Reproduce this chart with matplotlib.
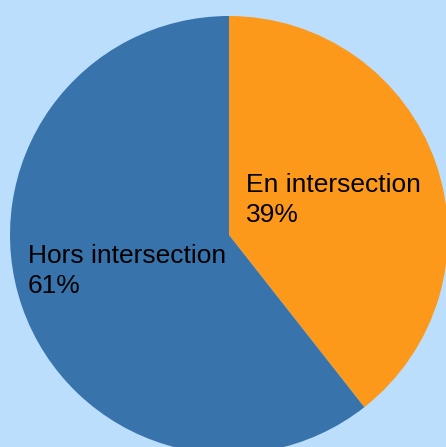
import matplotlib
matplotlib.use("Agg")
import matplotlib.pyplot as plt

categories = ["En intersection", "Hors intersection"]
values = [39.4, 60.6]
colors = ["#fd991a", "#3873ab"]
bg = "#bbdefd"

W, H = 446, 447
fig = plt.figure(figsize=(W / 100, H / 100), dpi=100, facecolor=bg)
ax = fig.add_axes([0, 0, 1, 1])
ax.set_facecolor(bg)

cx, cy, r = 229, H - 235, 219
ax.pie(values, colors=colors, startangle=90, counterclock=False,
       center=(cx, cy), radius=r, frame=True,
       wedgeprops=dict(linewidth=0))
ax.set_xlim(0, W)
ax.set_ylim(0, H)
ax.set_aspect("equal")
ax.axis("off")

total = sum(values)
pos = [(246, H - 192), (28, H - 263)]
for cat, v, (x, y) in zip(categories, values, pos):
    ax.text(x, y, cat, fontsize=19, family="Liberation Sans", color="black",
            ha="left", va="baseline")
    ax.text(x, y - 30, f"{round(v / total * 100)}%", fontsize=19,
            family="Liberation Sans", color="black", ha="left", va="baseline")

fig.savefig("out.png", dpi=100, facecolor=bg)
